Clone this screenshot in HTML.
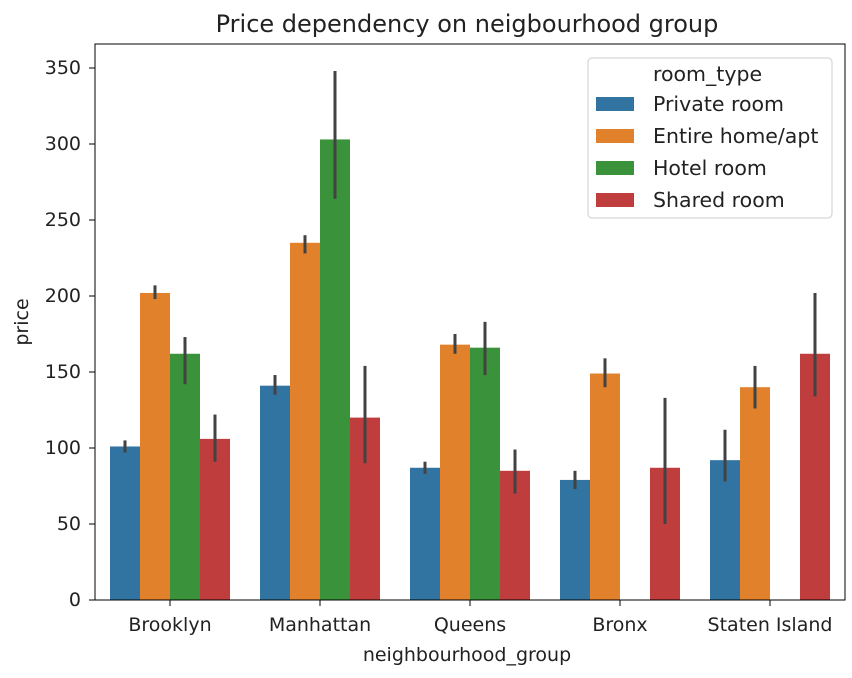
<!DOCTYPE html>
<html><head><meta charset="utf-8">
<style>
body{margin:0;background:#fff;}
svg text{font-family:"DejaVu Sans","Liberation Sans",sans-serif;fill:#222;}
</style></head>
<body>
<svg id="chart" width="852" height="673" viewBox="0 0 852 673">
<text x="467" y="32" font-size="24" text-anchor="middle">Price dependency on neigbourhood group</text>
<g id="bars"></g>
<g id="axes"></g>
<g id="legend">
<rect x="588" y="58" width="244" height="160" rx="4" fill="#fff" fill-opacity="0.8" stroke="#ccc"/>
<text x="653" y="81" font-size="20.5">room_type</text>
</g>
</svg>
<script>
const categories=["Brooklyn","Manhattan","Queens","Bronx","Staten Island"];
const series=["Private room","Entire home/apt","Hotel room","Shared room"];
const colors=["#3274a1","#e1812c","#3a923a","#c03d3e"];
const privateRoom=[101,141,87,79,92];
const entireHome=[202,235,168,149,140];
const hotelRoom=[162,303,166,null,null];
const sharedRoom=[106,120,85,87,162];
const ciLow=[[97,135,83,73,78],[198,228,162,140,126],[142,264,148,null,null],[91,90,70,50,134]];
const ciHigh=[[105,148,91,85,112],[207,240,175,159,154],[173,348,183,null,null],[122,154,99,133,202]];
const yTicks=[0,50,100,150,200,250,300,350];
const values=[privateRoom,entireHome,hotelRoom,sharedRoom];
const L=95,R=845,T=44,B=600;
const y=v=>B-v*(B-68)/350;
const step=(R-L)/categories.length;
const xc=i=>L+step*(i+0.5);
const bw=step*0.8/series.length;
const NS="http://www.w3.org/2000/svg";
function mk(tag,attrs,parent){const e=document.createElementNS(NS,tag);for(const k in attrs)e.setAttribute(k,attrs[k]);parent.appendChild(e);return e;}
const bars=document.getElementById('bars'),axes=document.getElementById('axes');
values.forEach((arr,s)=>{arr.forEach((v,i)=>{
 if(v==null)return;
 const x0=xc(i)-step*0.4+s*bw;
 const r=mk('rect',{x:x0,y:y(v),width:bw,height:B-y(v),fill:colors[s]},bars);
 
 
 const l=mk('line',{x1:x0+bw/2,x2:x0+bw/2,y1:y(ciLow[s][i]),y2:y(ciHigh[s][i]),stroke:'#424242','stroke-width':3},bars);
 
 
});});
const frame=mk('rect',{x:L,y:T,width:R-L,height:B-T,fill:'none',stroke:'#000','stroke-width':1},axes);


yTicks.forEach(t=>{
 mk('line',{x1:L-6,x2:L,y1:y(t),y2:y(t),stroke:'#000'},axes);
 const tx=mk('text',{x:L-14,y:y(t)+6,'font-size':19,'text-anchor':'end'},axes);
 tx.textContent=t;
 
 
});
categories.forEach((c,i)=>{
 mk('line',{x1:xc(i),x2:xc(i),y1:B,y2:B+6,stroke:'#000'},axes);
 const tx=mk('text',{x:xc(i),y:B+31,'font-size':19,'text-anchor':'middle'},axes);
 tx.textContent=c;
 
 
});
const xt=mk('text',{x:467,y:661,'font-size':19,'text-anchor':'middle'},axes);
xt.textContent='neighbourhood_group';


const yt=mk('text',{x:0,y:0,'font-size':19,'text-anchor':'middle',transform:'translate(28,'+((T+B)/2)+') rotate(-90)'},axes);
yt.textContent='price';


const lg=document.getElementById('legend');
series.forEach((s,k)=>{
 const yy=104+k*32;
 const r=mk('rect',{x:596,y:yy-7,width:38,height:14,fill:colors[k]},lg);
 
 
 const t=mk('text',{x:653,y:yy+7,'font-size':20.5},lg);
 t.textContent=s;
 
 
});
</script>
</body></html>
